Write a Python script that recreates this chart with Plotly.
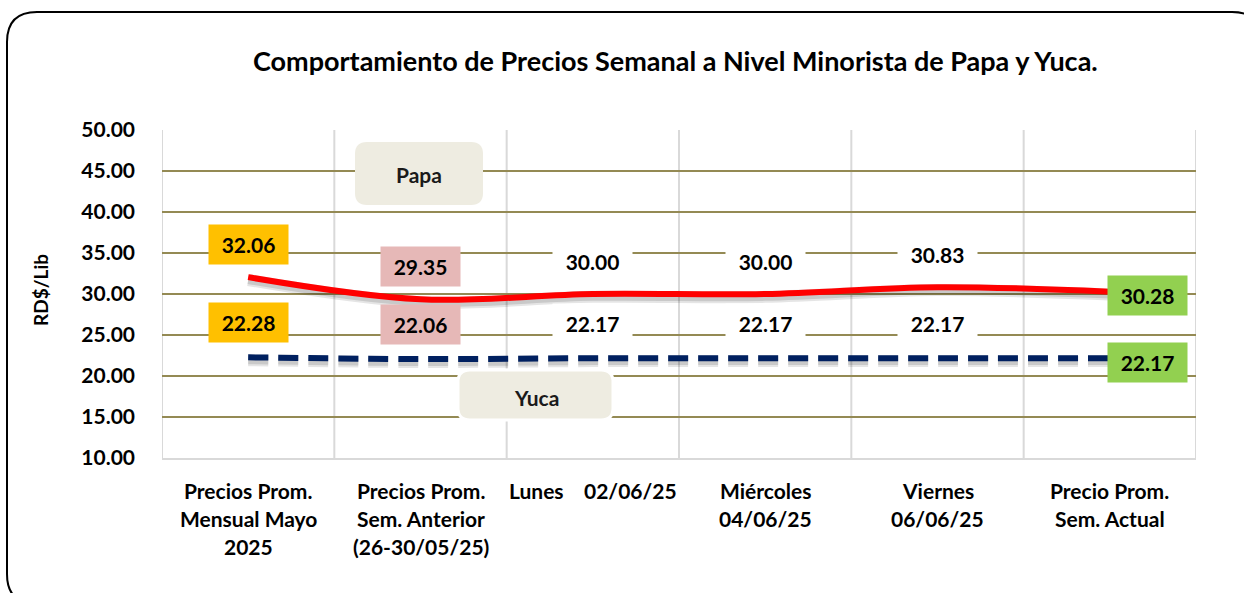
import plotly.graph_objects as go

categories = [
    "Precios Prom.<br>Mensual Mayo<br>2025",
    "Precios Prom.<br>Sem. Anterior<br>(26-30/05/25)",
    "Lunes&nbsp;&nbsp;&nbsp;&nbsp;02/06/25",
    "Miércoles<br>04/06/25",
    "Viernes<br>06/06/25",
    "Precio Prom.<br>Sem. Actual",
]
papa = [32.06, 29.35, 30.00, 30.00, 30.83, 30.28]
yuca = [22.28, 22.06, 22.17, 22.17, 22.17, 22.17]
label_colors = ["#FFC000", "#E6B8B7", "#FFFFFF", "#FFFFFF", "#FFFFFF", "#92D050"]
y_ticks = [10, 15, 20, 25, 30, 35, 40, 45, 50]

title = "Comportamiento de Precios Semanal a Nivel Minorista de Papa y Yuca."
FONT = "Lato"

W, H = 1244, 593
L, R, T, B = 162, 1196, 130, 458

def px(x):
    return (x - L) / (R - L)

def py(y):
    return (B - y) / (B - T)

def rounded_path(x0, y0, x1, y1, r):
    rx = r / (R - L)
    ry = r / (B - T)
    X0, X1 = px(x0), px(x1)
    Y0, Y1 = py(y0), py(y1)
    return (f"M {X0+rx},{Y0} L {X1-rx},{Y0} Q {X1},{Y0} {X1},{Y0-ry} "
            f"L {X1},{Y1+ry} Q {X1},{Y1} {X1-rx},{Y1} "
            f"L {X0+rx},{Y1} Q {X0},{Y1} {X0},{Y1+ry} "
            f"L {X0},{Y0-ry} Q {X0},{Y0} {X0+rx},{Y0} Z")

x_idx = list(range(len(categories)))

fig = go.Figure()
# soft shadows
for off, op, wd in ((0.35, 0.10, 12), (0.35, 0.12, 8)):
    fig.add_trace(go.Scatter(x=x_idx, y=[v - off for v in papa], mode="lines",
                             line=dict(color=f"rgba(0,0,0,{op})", width=wd, shape="spline", smoothing=1),
                             hoverinfo="skip", showlegend=False))
    fig.add_trace(go.Scatter(x=x_idx, y=[v - off for v in yuca], mode="lines",
                             line=dict(color=f"rgba(0,0,0,{op})", width=wd, shape="spline", smoothing=1,
                                       dash="20px,10px"),
                             hoverinfo="skip", showlegend=False))
fig.add_trace(go.Scatter(x=x_idx, y=papa, mode="lines", name="Papa",
                         line=dict(color="#FF0000", width=6, shape="spline", smoothing=1)))
fig.add_trace(go.Scatter(x=x_idx, y=yuca, mode="lines", name="Yuca",
                         line=dict(color="#002060", width=6, shape="spline", smoothing=1, dash="20px,10px")))

annotations = []
n = len(categories)
for i in range(n):
    last = i == n - 1
    for vals, up in ((papa, 33), (yuca, 35)):
        annotations.append(dict(
            x=i, y=vals[i], xref="x", yref="y",
            text=f"{vals[i]:.2f}", showarrow=False,
            font=dict(family=FONT, size=21, color="#000000", weight="bold"),
            bgcolor=label_colors[i], width=77, height=37,
            xshift=38 if last else 0, yshift=-4 if last else up,
        ))
    for j, line in enumerate(categories[i].split("<br>")):
        annotations.append(dict(
            x=i, y=0, xref="x", yref="paper", yanchor="middle", xanchor="center",
            text=line, showarrow=False,
            font=dict(family=FONT, size=21, color="#000000", weight="bold"),
            yshift=-(32 + 28 * j),
        ))

shapes = [
    dict(type="path", xref="paper", yref="paper", path=rounded_path(355, 142, 483, 205, 12),
         fillcolor="#EEECE1", line=dict(width=0), layer="above"),
    dict(type="path", xref="paper", yref="paper", path=rounded_path(458, 370, 613, 420, 12),
         fillcolor="#EEECE1", line=dict(color="#FFFFFF", width=3), layer="above"),
    dict(type="path", xref="paper", yref="paper", path=rounded_path(7, 12, 1262, 604, 30),
         fillcolor="rgba(0,0,0,0)", line=dict(color="#000000", width=2), layer="above"),
]
annotations.append(dict(x=px(419), y=py(174), xref="paper", yref="paper", xanchor="center", yanchor="middle",
                        text="Papa", showarrow=False,
                        font=dict(family=FONT, size=21, color="#1A1A1A", weight="bold")))
annotations.append(dict(x=px(536), y=py(397), xref="paper", yref="paper", xanchor="center", yanchor="middle",
                        text="Yuca", showarrow=False,
                        font=dict(family=FONT, size=21, color="#1A1A1A", weight="bold")))
annotations.append(dict(x=px(40), y=py(290), xref="paper", yref="paper", xanchor="center", yanchor="middle",
                        text="RD$/Lib", showarrow=False, textangle=-90,
                        font=dict(family=FONT, size=19, color="#000000", weight="bold")))
annotations.append(dict(x=px(675), y=py(61), xref="paper", yref="paper", xanchor="center", yanchor="middle",
                        text=title, showarrow=False,
                        font=dict(family=FONT, size=27, color="#000000", weight="bold")))

for k in range(n + 1):
    shapes.append(dict(type="line", xref="x", yref="paper", x0=k - 0.5, x1=k - 0.5, y0=0, y1=1,
                       line=dict(color="#D9D9D9", width=2), layer="below"))

fig.update_layout(
    width=W, height=H,
    margin=dict(l=L, r=W - R, t=T, b=H - B),
    paper_bgcolor="#FFFFFF", plot_bgcolor="#FFFFFF",
    showlegend=False,
    annotations=annotations, shapes=shapes,
    xaxis=dict(range=[-0.5, n - 0.5], showgrid=False, zeroline=False, showticklabels=False,
               showline=True, linecolor="#D9D9D9", linewidth=2, fixedrange=True),
    yaxis=dict(range=[10, 50], tickvals=y_ticks, ticktext=[f"{v:.2f}" for v in y_ticks],
               showgrid=True, gridcolor="#948A54", gridwidth=2, zeroline=False,
               tickfont=dict(family=FONT, size=21, color="#000000", weight="bold"),
               ticklabelstandoff=26, showline=False, fixedrange=True),
)

fig.write_html("out.html", config={"displayModeBar": False},
               post_script="document.body.style.margin='0';document.body.style.overflow='hidden';")
